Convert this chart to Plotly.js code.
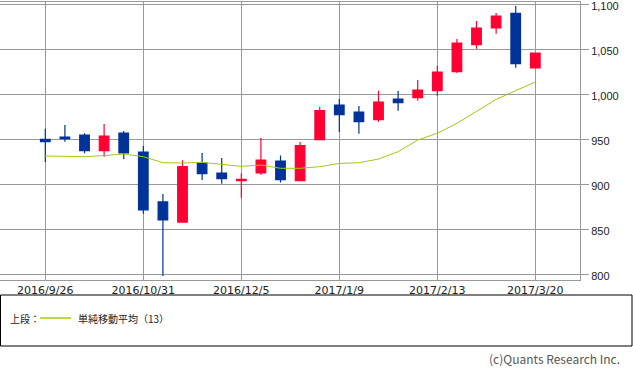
<!DOCTYPE html>
<html>
<head>
<meta charset="utf-8">
<script src="https://cdn.plot.ly/plotly-3.0.1.min.js"></script>
<style>html,body{margin:0;padding:0;background:#fff;}#chart{width:633px;height:370px;}</style>
</head>
<body>
<div id="chart"></div>
<script>
const dates = ['2016-09-26','2016-10-03','2016-10-10','2016-10-17','2016-10-24','2016-10-31','2016-11-07','2016-11-14','2016-11-21','2016-11-28','2016-12-05','2016-12-12','2016-12-19','2016-12-26','2017-01-02','2017-01-09','2017-01-16','2017-01-23','2017-01-30','2017-02-06','2017-02-13','2017-02-20','2017-02-27','2017-03-06','2017-03-13','2017-03-20'];
const openV  = [950, 952.6, 954.8, 937.4, 957, 935.9, 880.4, 858.1, 923.7, 912.6, 904.1, 912.6, 925.9, 904.1, 949.6, 988.1, 980.4, 971.9, 994.8, 996.3, 1004.1, 1025.2, 1055.2, 1073.7, 1090, 1029.3];
const highV  = [961.9, 965.9, 956.7, 967, 959.3, 942.6, 889.3, 926.7, 934.8, 929.3, 912.2, 951.5, 931.9, 947, 986.3, 994.8, 987, 1004.1, 1003.7, 1015.9, 1031.5, 1061.5, 1081.5, 1090.4, 1098.1, 1045.9];
const lowV   = [924.8, 947.4, 934.4, 930.7, 928.1, 867.4, 798.1, 857.4, 904.8, 900.7, 885.2, 910.7, 901.9, 904, 949.6, 958.1, 956.3, 969.6, 981.9, 993, 998.1, 1023.7, 1050.7, 1067.4, 1029.6, 1029.3];
const closeV = [947.4, 950.7, 937.4, 953.7, 934.8, 871.5, 860.4, 919.6, 911.9, 906.3, 905.6, 927, 905.2, 943, 981.9, 977.4, 969.6, 991.5, 990.7, 1004.8, 1024.8, 1057, 1073.7, 1087, 1034.1, 1045.9];
const sma13  = [931.5, 931, 930.7, 931.9, 933.7, 930.7, 924, 923.7, 924.4, 922.2, 920, 921.5, 917.8, 917.8, 919.6, 923.3, 924, 928.1, 936.3, 949.3, 956.7, 967.8, 981.5, 994.4, 1004.1, 1013.7];
const xTickVals = ['2016-09-26','2016-10-31','2016-12-05','2017-01-09','2017-02-13','2017-03-20'];
const xTickText = ['2016/9/26','2016/10/31','2016/12/5','2017/1/9','2017/2/13','2017/3/20'];
const yTickVals = [800, 850, 900, 950, 1000, 1050, 1100];
const legendPrefix = '上段：';
const legendLabel = '単純移動平均（13）';
const copyright = '(c)Quants Research Inc.';

const FONT = 'Noto Sans CJK JP, sans-serif';
const TOP = 2, BOTTOM = 280, RIGHT = 580;
const W = RIGHT, H = BOTTOM - TOP;
// paper-coordinate helpers from page pixels
const px = v => v / W;
const py = v => (BOTTOM - v) / H;

const traces = [
  {
    type: 'candlestick', x: dates, open: openV, high: highV, low: lowV, close: closeV,
    increasing: {line: {color: '#ff0033', width: 1.2}, fillcolor: '#ff0033'},
    decreasing: {line: {color: '#003399', width: 1.2}, fillcolor: '#003399'},
    whiskerwidth: 0, showlegend: false, hoverinfo: 'skip'
  },
  {
    type: 'scatter', mode: 'lines', x: dates, y: sma13,
    line: {color: '#a4c814', width: 1}, showlegend: false, hoverinfo: 'skip'
  }
];

const layout = {
  width: 633, height: 370,
  margin: {l: 0, r: 633 - RIGHT, t: TOP, b: 370 - BOTTOM, pad: 0},
  paper_bgcolor: '#ffffff', plot_bgcolor: '#ffffff',
  font: {family: FONT, size: 11, color: '#222'},
  showlegend: false,
  xaxis: {
    type: 'date', range: ['2016-09-09 19:40', '2017-04-04 23:00'],
    tickvals: xTickVals, ticktext: xTickText, ticks: '',
    showgrid: true, gridcolor: '#999', gridwidth: 1,
    showline: true, linecolor: '#999', linewidth: 1, mirror: true,
    zeroline: false, rangeslider: {visible: false}, fixedrange: true,
    tickfont: {family: 'DejaVu Sans, sans-serif', size: 11, color: '#222'}
  },
  yaxis: {
    side: 'right', range: [793.7, 1102.6], tickvals: yTickVals, tickformat: ',d',
    ticks: 'outside', ticklen: 8, tickcolor: '#999', tickwidth: 1,
    ticklabeloverflow: 'allow', ticklabelshift: 2,
    showgrid: true, gridcolor: '#999', gridwidth: 1,
    showline: true, linecolor: '#999', linewidth: 1, mirror: true,
    zeroline: false, fixedrange: true,
    tickfont: {family: 'Liberation Sans, sans-serif', size: 11, color: '#222'}
  },
  shapes: [
    {type: 'rect', xref: 'paper', yref: 'paper', x0: px(0.5), x1: px(632), y0: py(346), y1: py(295),
     line: {color: '#000', width: 1}, fillcolor: 'rgba(0,0,0,0)'},
    {type: 'line', xref: 'paper', yref: 'paper', x0: px(40), x1: px(71), y0: py(318), y1: py(318),
     line: {color: '#a4c814', width: 1.5}}
  ],
  annotations: [
    {xref: 'paper', yref: 'paper', x: px(8), y: py(318), xanchor: 'left', yanchor: 'middle',
     text: legendPrefix, showarrow: false, font: {family: FONT, size: 10, color: '#222'}},
    {xref: 'paper', yref: 'paper', x: px(76), y: py(318), xanchor: 'left', yanchor: 'middle',
     text: legendLabel, showarrow: false, font: {family: FONT, size: 10, color: '#222'}},
    {xref: 'paper', yref: 'paper', x: px(622), y: py(358), xanchor: 'right', yanchor: 'middle',
     text: copyright, showarrow: false, font: {family: FONT, size: 12, color: '#555'}}
  ]
};

Plotly.newPlot('chart', traces, layout, {staticPlot: true, displayModeBar: false});
</script>
</body>
</html>
